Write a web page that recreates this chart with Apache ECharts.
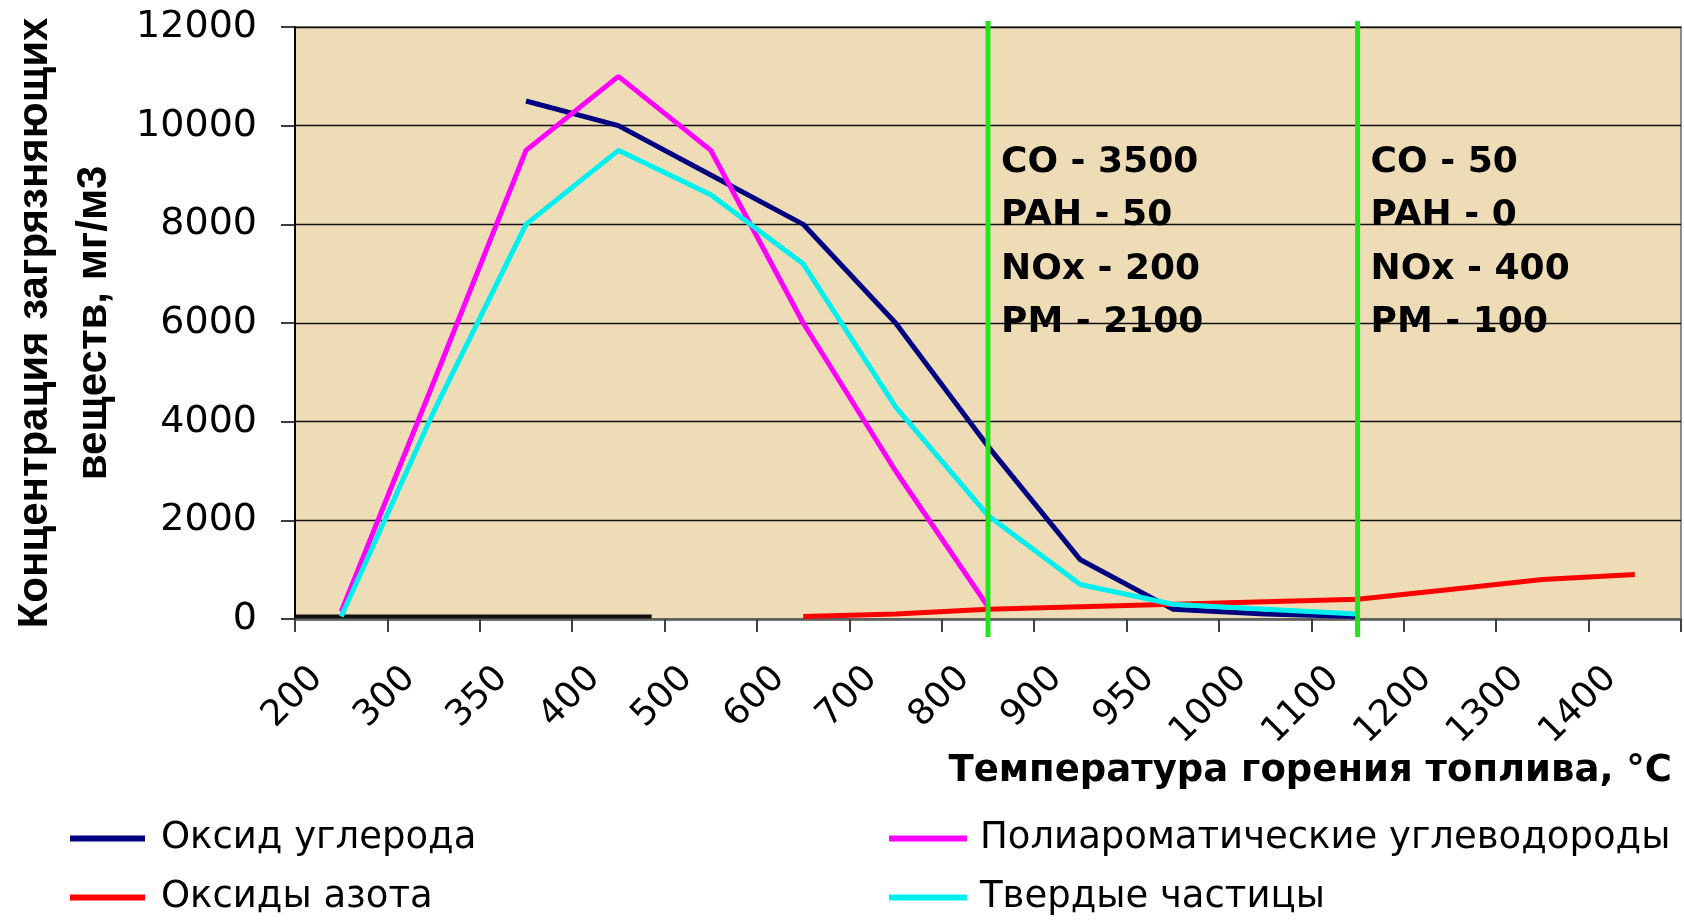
<!DOCTYPE html>
<html>
<head>
<meta charset="utf-8">
<script src="https://cdn.jsdelivr.net/npm/echarts@6/dist/echarts.min.js"></script>
<style>
  html, body { margin: 0; background: #fff; }
  #chart { width: 1684px; height: 920px; }
</style>
</head>
<body>
<div id="chart"></div>
<script>
// температура горения, °C (категории оси X)
var temps = ['200', '300', '350', '400', '500', '600', '700', '800', '900', '950', '1000', '1100', '1200', '1300', '1400']
// концентрации, мг/м3
var carbonMonoxide = [null, null, 10500, 10000, 9000, 8000, 6000, 3500, 1200, 200, 100, 50, null, null, null]
var polyAromatic = [150, 4800, 9500, 11000, 9500, 6000, 3000, 250, null, null, null, null, null, null, null]
var nitrogenOxides = [null, null, null, null, null, 50, 100, 200, 250, 300, 350, 400, 600, 800, 900]
var particles = [50, 4200, 8000, 9500, 8600, 7200, 4300, 2100, 700, 300, 200, 100, null, null, null]
// отметки (зелёные линии) и подписи к ним
var markerTemps = ['800', '1100']
var markerNotes = [
  ['CO - 3500', 'PAH - 50', 'NOx - 200', 'PM - 2100'],
  ['CO - 50', 'PAH - 0', 'NOx - 400', 'PM - 100']
]
// чёрная линия внизу: от позиции категории, до позиции категории, значение
var baseSegment = [-0.5, 3.36, 50]

var FONT = '"DejaVu Sans", "Liberation Sans", sans-serif'

var chart = echarts.init(document.getElementById('chart'))

function renderMarker(params, api) {
  var t = markerTemps[params.dataIndex]
  var bottom = api.coord([t, 0])
  var top = api.coord([t, 12000])
  var noteTop = api.coord([t, 9800])
  return {
    type: 'group',
    children: [{
      type: 'line',
      shape: { x1: bottom[0], y1: top[1] - 6, x2: bottom[0], y2: bottom[1] + 18 },
      style: { stroke: '#22e41c', lineWidth: 5 }
    }, {
      type: 'text',
      style: {
        text: markerNotes[params.dataIndex].join('\n'),
        x: bottom[0] + 13,
        y: noteTop[1],
        fill: '#000',
        fontSize: 36,
        fontWeight: 'bold',
        fontFamily: FONT,
        lineHeight: 53.5,
        align: 'left',
        verticalAlign: 'top'
      }
    }]
  }
}

function renderBase(params, api) {
  var first = api.coord([temps[0], baseSegment[2]])
  var band = api.size([1, 0])[0]
  return {
    type: 'line',
    shape: {
      x1: first[0] + baseSegment[0] * band, y1: first[1],
      x2: first[0] + baseSegment[1] * band, y2: first[1]
    },
    style: { stroke: '#111', lineWidth: 4 }
  }
}

chart.setOption({
  animation: false,
  backgroundColor: '#fff',
  title: {
    text: 'Температура горения топлива, °C',
    right: 12,
    top: 748,
    padding: 0,
    textStyle: { fontSize: 37, fontWeight: 'bold', fontFamily: FONT, color: '#000', lineHeight: 46 }
  },
  legend: [{
    data: ['Оксид углерода', 'Оксиды азота'],
    orient: 'vertical',
    left: 70,
    top: 818,
    padding: 0,
    itemGap: 18,
    icon: 'rect',
    itemWidth: 75,
    itemHeight: 6,
    textStyle: { fontSize: 37, fontFamily: FONT, color: '#000', lineHeight: 41, padding: [0, 0, 0, 11] }
  }, {
    data: ['Полиароматические углеводороды', 'Твердые частицы'],
    orient: 'vertical',
    left: 889,
    top: 818,
    padding: 0,
    itemGap: 18,
    icon: 'rect',
    itemWidth: 78,
    itemHeight: 6,
    textStyle: { fontSize: 37, fontFamily: FONT, color: '#000', lineHeight: 41, padding: [0, 0, 0, 8] }
  }],
  grid: {
    left: 295,
    top: 27,
    width: 1386,
    height: 592,
    outerBoundsMode: 'none',
    containLabel: false,
    show: true,
    backgroundColor: '#eedcb6',
    borderColor: '#8a8a8a',
    borderWidth: 2
  },
  xAxis: {
    type: 'category',
    data: temps,
    boundaryGap: true,
    axisLine: { lineStyle: { color: '#606060', width: 2.5 } },
    axisTick: { show: true, length: 13, lineStyle: { color: '#404040', width: 2 } },
    axisLabel: {
      interval: 0,
      rotate: 45,
      margin: 30,
      padding: [0, 34, 0, 0],
      fontSize: 36,
      fontFamily: FONT,
      color: '#000'
    }
  },
  yAxis: {
    type: 'value',
    min: 0,
    max: 12000,
    interval: 2000,
    name: 'Концентрация загрязняющих\nвеществ, мг/м3',
    nameLocation: 'middle',
    nameRotate: 90,
    nameGap: 171,
    nameMoveOverlap: false,
    nameTextStyle: { fontSize: 42, fontWeight: 'bold', fontFamily: '"Liberation Sans", Arial, sans-serif', color: '#000', lineHeight: 59 },
    axisLine: { show: true, lineStyle: { color: '#000', width: 2 } },
    axisTick: { show: true, length: 14, lineStyle: { color: '#000', width: 1.5 } },
    axisLabel: {
      margin: 38,
      fontSize: 38,
      fontFamily: FONT,
      color: '#000',
      formatter: function (v) { return String(v) }
    },
    splitLine: { lineStyle: { color: '#111', width: 1.3 } }
  },
  series: [{
    name: 'Оксид углерода',
    type: 'line',
    data: carbonMonoxide,
    symbol: 'none',
    color: '#000080',
    lineStyle: { width: 5 }
  }, {
    name: 'Полиароматические углеводороды',
    type: 'line',
    data: polyAromatic,
    symbol: 'none',
    color: '#ff00ff',
    lineStyle: { width: 5 }
  }, {
    name: 'Оксиды азота',
    type: 'line',
    data: nitrogenOxides,
    symbol: 'none',
    color: '#ff0000',
    lineStyle: { width: 5 }
  }, {
    name: 'Твердые частицы',
    type: 'line',
    data: particles,
    symbol: 'none',
    color: '#00f0f0',
    lineStyle: { width: 5 }
  }, {
    type: 'custom',
    data: [[temps[0], baseSegment[2]]],
    encode: { x: 0, y: 1 },
    renderItem: renderBase,
    z: 1,
    silent: true
  }, {
    type: 'custom',
    data: markerTemps.map(function (t) { return [t, 0] }),
    encode: { x: 0, y: 1 },
    renderItem: renderMarker,
    z: 5,
    silent: true
  }]
})
</script>
</body>
</html>
